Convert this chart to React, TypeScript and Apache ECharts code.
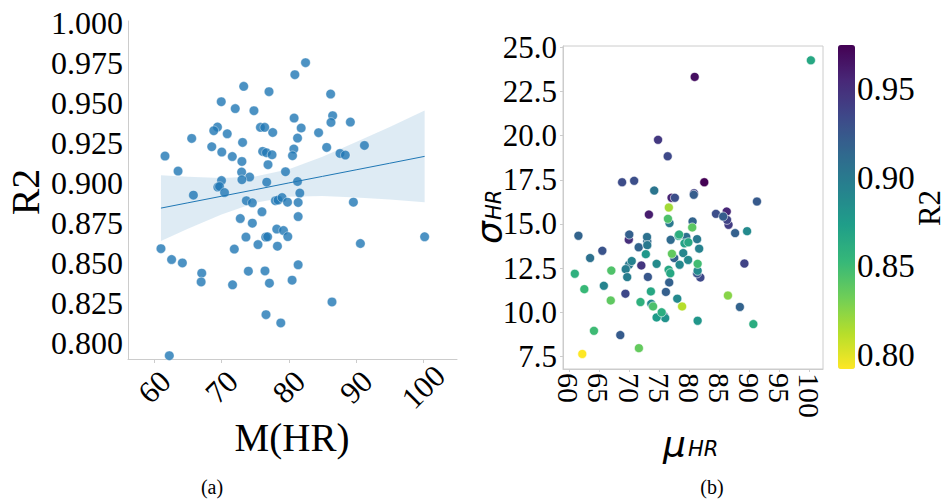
import React, { useEffect, useRef } from 'react';
import * as echarts from 'echarts';

// Per-subject values: mean HR, R2 of the fit, std of HR
const meanHR = [
  80.9, 73.3, 77.06, 69.96, 72.04, 74.82, 80.79, 81.84, 69.4, 68.85,
  70.85, 75.78, 76.42, 77.61, 65.57, 81.3, 73.13, 68.55, 70.04, 76.12,
  76.67, 77.51, 80.75, 80.55, 61.6, 71.6, 73.03, 76.91, 63.54, 72.99,
  79.51, 74.18, 70.0, 73.03, 76.72, 81.3, 69.45, 69.7, 70.45, 65.82,
  81.64, 73.69, 74.58, 78.01, 78.4, 79.0, 79.81, 81.39, 76.01, 72.79,
  74.58, 81.39, 78.21, 79.21, 79.85, 73.63, 76.57, 76.85, 75.42, 78.31,
  61.0, 71.9, 62.58, 64.18, 81.39, 67.06, 73.99, 76.46, 66.97, 71.64,
  77.12, 80.49, 76.61, 78.81, 62.24, 82.49, 86.22, 86.52, 86.27, 89.15,
  84.43, 85.63, 91.24, 87.61, 88.4, 89.6, 90.64, 100.19, 86.42,
];
const r2 = [
  0.9675, 0.9602, 0.9569, 0.9506, 0.9463, 0.945, 0.9404, 0.9342, 0.9348, 0.9325,
  0.9306, 0.9346, 0.9346, 0.9314, 0.9277, 0.9279, 0.9252, 0.9225, 0.9192, 0.9196,
  0.9188, 0.9175, 0.9211, 0.9169, 0.9167, 0.9164, 0.9133, 0.9113, 0.9073, 0.9067,
  0.9069, 0.9036, 0.9014, 0.9019, 0.9004, 0.9008, 0.8973, 0.8977, 0.8939, 0.8923,
  0.8936, 0.8888, 0.8875, 0.8888, 0.8892, 0.8908, 0.8879, 0.8877, 0.8819, 0.8777,
  0.8748, 0.8789, 0.8711, 0.8702, 0.8664, 0.8661, 0.8661, 0.8663, 0.8614, 0.8604,
  0.8589, 0.8586, 0.8521, 0.85, 0.8488, 0.8436, 0.8448, 0.845, 0.8381, 0.8363,
  0.8373, 0.8392, 0.8177, 0.8125, 0.7921, 0.975, 0.9554, 0.9419, 0.9377, 0.9379,
  0.9313, 0.9221, 0.9233, 0.9183, 0.9173, 0.8879, 0.8621, 0.8663, 0.8256,
];
const stdHR = [
  23.32, 15.53, 16.48, 14.11, 12.65, 19.76, 16.74, 11.97, 11.05, 17.36,
  17.44, 9.8, 18.83, 16.48, 13.48, 12.2, 12.0, 8.71, 14.4, 11.15,
  11.69, 13.07, 16.65, 15.14, 14.33, 13.68, 14.0, 14.1, 13.07, 14.26,
  14.26, 16.89, 12.69, 13.8, 15.05, 14.14, 12.44, 11.99, 12.9, 11.5,
  13.6, 10.48, 12.74, 10.77, 12.69, 13.35, 12.96, 12.35, 9.67, 13.29,
  9.71, 9.52, 14.33, 13.9, 13.96, 11.18, 12.4, 12.21, 10.0, 14.4,
  12.18, 10.58, 11.31, 8.95, 12.74, 12.36, 10.33, 15.29, 10.67, 7.97,
  13.31, 14.8, 15.93, 10.33, 7.64, 17.36, 15.7, 14.95, 15.23, 12.76,
  15.57, 15.42, 16.27, 14.48, 10.3, 14.59, 9.33, 24.26, 10.95,
];

// Regression line and its confidence band (panel a)
const fitX = [61.0, 65, 70, 75, 80, 85, 90, 95, 100.19];
const fitY = [0.8842, 0.8875, 0.8916, 0.8957, 0.8999, 0.904, 0.9081, 0.9122, 0.9165];
const ciUpper = [0.9047, 0.9037, 0.903, 0.9039, 0.9085, 0.9163, 0.9254, 0.9349, 0.9451];
const ciLower = [0.8637, 0.8713, 0.8802, 0.8876, 0.8913, 0.8917, 0.8908, 0.8895, 0.8879];

// Tick labels
const leftXTicks = [60, 70, 80, 90, 100];
const leftYTicks = [0.8, 0.825, 0.85, 0.875, 0.9, 0.925, 0.95, 0.975, 1.0];
const rightXTicks = [60, 65, 70, 75, 80, 85, 90, 95, 100];
const rightYTicks = [7.5, 10, 12.5, 15, 17.5, 20, 22.5, 25];
const cbTicks = [0.8, 0.85, 0.9, 0.95];

const viridisR = [
  '#fde725', '#b5de2b', '#6ece58', '#35b779', '#1f9e89',
  '#26828e', '#31688e', '#3e4989', '#482878', '#440154',
];

const SERIF = "'Times New Roman', 'Liberation Serif', serif";
const SANS = "'DejaVu Sans', sans-serif";
const GRAY = '#cccccc';

export default function App() {
  const ref = useRef<HTMLDivElement>(null);

  useEffect(() => {
    if (!ref.current) return;
    const chart = echarts.init(ref.current, undefined, { renderer: 'svg' });
    const r2Min = Math.min(...r2);
    const r2Max = Math.max(...r2);

    const option: any = {
      animation: false,
      backgroundColor: '#ffffff',
      grid: [
        { left: 128, top: 21, width: 329, height: 338 },
        { left: 563, top: 46, width: 260, height: 323, show: true, borderColor: GRAY, borderWidth: 1, backgroundColor: 'transparent' },
        { left: 838, top: 45, width: 17, height: 324 },
      ],
      xAxis: [
        {
          gridIndex: 0, type: 'value', min: 56.1, max: 105,
          axisLine: { show: true, lineStyle: { color: GRAY, width: 1 } },
          axisTick: { show: true, length: 4, lineStyle: { color: GRAY }, customValues: leftXTicks },
          splitLine: { show: false },
          axisLabel: {
            customValues: leftXTicks, rotate: 45, align: 'center', verticalAlign: 'middle',
            margin: 28, fontSize: 31, fontFamily: SERIF, color: '#000',
          },
        },
        {
          gridIndex: 1, type: 'value', min: 59.04, max: 102.2,
          axisLine: { show: true, lineStyle: { color: GRAY, width: 1 } },
          axisTick: { show: true, length: 3, lineStyle: { color: GRAY }, customValues: rightXTicks },
          splitLine: { show: false },
          axisLabel: {
            customValues: rightXTicks, rotate: -90, align: 'left', verticalAlign: 'middle',
            margin: 4, fontSize: 30, fontFamily: SERIF, color: '#000',
          },
        },
        { gridIndex: 2, type: 'value', min: 0, max: 1, show: false },
      ],
      yAxis: [
        {
          gridIndex: 0, type: 'value', min: 0.79, max: 1.001,
          axisLine: { show: true, lineStyle: { color: GRAY, width: 1 } },
          axisTick: { show: false },
          splitLine: { show: false },
          axisLabel: {
            customValues: leftYTicks, formatter: (v: number) => v.toFixed(3),
            margin: 5, fontSize: 32, fontFamily: SERIF, color: '#000',
          },
        },
        {
          gridIndex: 1, type: 'value', min: 6.79, max: 25.07,
          axisLine: { show: true, lineStyle: { color: GRAY, width: 1 } },
          axisTick: { show: true, length: 3, lineStyle: { color: GRAY }, customValues: rightYTicks },
          splitLine: { show: false },
          axisLabel: {
            customValues: rightYTicks, formatter: (v: number) => v.toFixed(1),
            margin: 6, fontSize: 31, fontFamily: SERIF, color: '#000',
          },
        },
        {
          gridIndex: 2, type: 'value', position: 'right', min: r2Min, max: r2Max,
          axisLine: { show: false }, axisTick: { show: false }, splitLine: { show: false },
          axisLabel: {
            customValues: cbTicks, formatter: (v: number) => v.toFixed(2),
            margin: 2, fontSize: 33, fontFamily: SERIF, color: '#000',
          },
        },
      ],
      visualMap: [
        {
          type: 'continuous', seriesIndex: 3, dimension: 2,
          min: r2Min, max: r2Max, calculable: false, realtime: false, hoverLink: false,
          orient: 'vertical', left: 838, top: 45, itemWidth: 17, itemHeight: 324,
          padding: 0, text: null, showLabel: false,
          inRange: { color: viridisR },
        },
      ],
      series: [
        {
          type: 'custom', xAxisIndex: 0, yAxisIndex: 0, silent: true, z: 1,
          data: fitX.map((x, i) => [x, ciLower[i], ciUpper[i]]),
          renderItem: (params: any, api: any) => {
            if (params.dataIndex !== 0) return null;
            const pts: number[][] = [];
            for (let i = 0; i < fitX.length; i++) pts.push(api.coord([fitX[i], ciUpper[i]]));
            for (let i = fitX.length - 1; i >= 0; i--) pts.push(api.coord([fitX[i], ciLower[i]]));
            return { type: 'polygon', shape: { points: pts }, style: { fill: 'rgba(31,119,180,0.15)', stroke: 'none' } };
          },
        },
        {
          type: 'scatter', xAxisIndex: 0, yAxisIndex: 0, z: 2,
          data: meanHR.map((x, i) => [x, r2[i]]),
          symbolSize: 9.5,
          itemStyle: { color: '#1f77b4', opacity: 0.8, borderColor: '#ffffff', borderWidth: 0.5 },
        },
        {
          type: 'line', xAxisIndex: 0, yAxisIndex: 0, z: 3,
          data: fitX.map((x, i) => [x, fitY[i]]),
          symbol: 'none', lineStyle: { color: '#1f77b4', width: 1 },
        },
        {
          type: 'scatter', xAxisIndex: 1, yAxisIndex: 1, z: 2,
          data: meanHR.map((x, i) => [x, stdHR[i], r2[i]]),
          symbolSize: 9,
          itemStyle: { borderColor: '#ffffff', borderWidth: 0.6, opacity: 1 },
        },
      ],
      graphic: [
        { type: 'text', x: 25, y: 192, rotation: Math.PI / 2, style: { text: 'R2', fontSize: 40, fontFamily: SERIF, fill: '#000', align: 'center', verticalAlign: 'middle' } },
        { type: 'text', x: 292, y: 437, style: { text: 'M(HR)', fontSize: 39, fontFamily: SERIF, fill: '#000', align: 'center', verticalAlign: 'middle' } },
        { type: 'text', x: 212, y: 487, style: { text: '(a)', fontSize: 20, fontFamily: SERIF, fill: '#000', align: 'center', verticalAlign: 'middle' } },
        { type: 'text', x: 712, y: 487, style: { text: '(b)', fontSize: 20, fontFamily: SERIF, fill: '#000', align: 'center', verticalAlign: 'middle' } },
        { type: 'text', x: 929, y: 208, rotation: Math.PI / 2, style: { text: 'R2', fontSize: 31, fontFamily: SERIF, fill: '#000', align: 'center', verticalAlign: 'middle' } },
        {
          type: 'group', x: 663, y: 444,
          children: [
            { type: 'text', x: 0, y: 0, style: { text: 'μ', fontSize: 36, fontStyle: 'italic', fontFamily: SANS, fill: '#000', align: 'left', verticalAlign: 'middle' } },
            { type: 'text', x: 25, y: 5, style: { text: 'HR', fontSize: 21, fontStyle: 'italic', fontFamily: SANS, fill: '#000', align: 'left', verticalAlign: 'middle' } },
          ],
        },
        {
          type: 'group', x: 489, y: 244, rotation: Math.PI / 2,
          children: [
            { type: 'text', x: 0, y: 0, style: { text: 'σ', fontSize: 36, fontStyle: 'italic', fontFamily: SANS, fill: '#000', align: 'left', verticalAlign: 'middle' } },
            { type: 'text', x: 24, y: 5, style: { text: 'HR', fontSize: 21, fontStyle: 'italic', fontFamily: SANS, fill: '#000', align: 'left', verticalAlign: 'middle' } },
          ],
        },
      ],
    };
    chart.setOption(option);
    return () => chart.dispose();
  }, []);

  return (
    <div
      ref={ref}
      style={{ position: 'fixed', left: 0, top: 0, width: 946, height: 502, background: '#fff' }}
    />
  );
}
